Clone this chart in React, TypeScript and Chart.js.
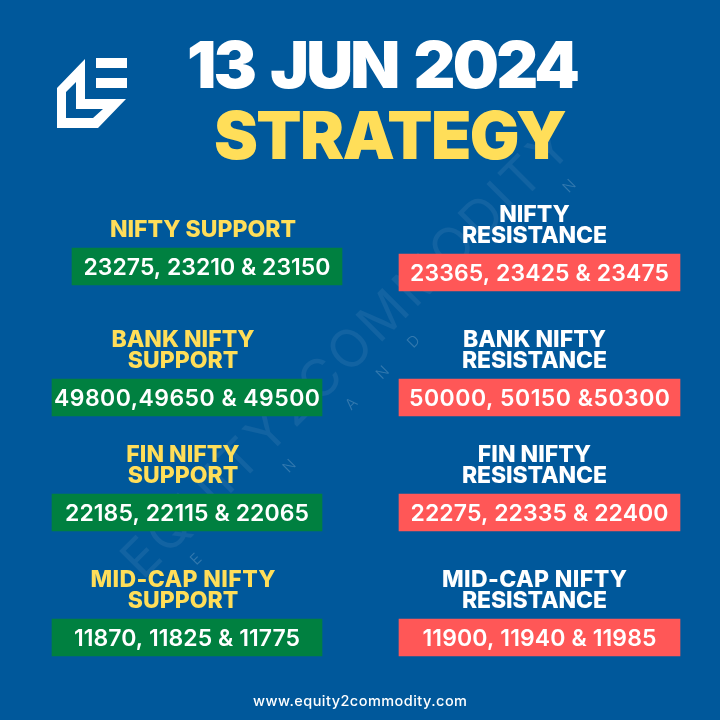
import React, { useEffect, useRef } from 'react';
import { Chart, registerables } from 'chart.js';

Chart.register(...registerables);

const dateTitle = '13 JUN 2024';
const strategyTitle = 'STRATEGY';
const website = 'www.equity2commodity.com';
const watermark = 'EQUITY2COMMODITY';
const watermarkSmall = ['E', '', '', 'N', '', 'A', 'N', 'D', '', '', '', '', 'N'];

const supportHeadings = [['NIFTY SUPPORT'], ['BANK NIFTY', 'SUPPORT'], ['FIN NIFTY', 'SUPPORT'], ['MID-CAP NIFTY', 'SUPPORT']];
const resistanceHeadings = [['NIFTY', 'RESISTANCE'], ['BANK NIFTY', 'RESISTANCE'], ['FIN NIFTY', 'RESISTANCE'], ['MID-CAP NIFTY', 'RESISTANCE']];

const supportLevels = ['23275, 23210 & 23150', '49800,49650 & 49500', '22185, 22115 & 22065', '11870, 11825 & 11775'];
const resistanceLevels = ['23365, 23425 & 23475', '50000, 50150 &50300', '22275, 22335 & 22400', '11900, 11940 & 11985'];

// plate extents on the 0-720 page scales
const supportSpans = [[72, 342], [52, 322], [52, 322], [52, 322]];
const resistanceSpans = [[399, 680], [399, 680], [399, 680], [399, 680]];
const supportRows = [266.5, 397.5, 512.5, 637.5];
const resistanceRows = [272.5, 397.5, 512.5, 637.5];

// widths the level text takes up inside its plate
const supportTextWidths = [247, 266, 244, 226];
const resistanceTextWidths = [259, 261, 258, 234];

const BLUE = '#00589b';
const GREEN = '#008040';
const RED = '#ff5757';
const YELLOW = '#ffde59';
const FONT = 'Inter, "Noto Sans", sans-serif';

// draws centred text, squeezing the letter spacing to hit a width when one is given
function drawText(ctx, text, x, y, font, color, width = 0, wordGap = 0) {
  ctx.font = font;
  ctx.fillStyle = color;
  ctx.letterSpacing = '0px';
  ctx.wordSpacing = `${wordGap}px`;
  ctx.textBaseline = 'alphabetic';
  ctx.textAlign = 'left';
  const natural = ctx.measureText(text).width;
  const target = width || natural;
  const spacing = width ? (width - natural) / (text.length - 1) : 0;
  ctx.letterSpacing = `${spacing}px`;
  ctx.fillText(text, x - target / 2, y);
  ctx.letterSpacing = '0px';
  ctx.wordSpacing = '0px';
}

const backgroundPlugin = {
  id: 'pageBackground',
  beforeDraw(chart) {
    const { ctx, width, height } = chart;
    ctx.save();
    ctx.fillStyle = BLUE;
    ctx.fillRect(0, 0, width, height);

    // faint watermark
    ctx.translate(345, 352);
    ctx.rotate(-Math.PI / 4);
    drawText(ctx, watermark, 0, 19, '400 52px Inter, sans-serif', 'rgba(255,255,255,0.07)', 610);
    watermarkSmall.forEach((letter, i) => {
      if (letter) drawText(ctx, letter, -252 + i * 44, 46, '300 15px Inter, sans-serif', 'rgba(255,255,255,0.2)');
    });
    ctx.restore();

    // logo
    ctx.save();
    ctx.fillStyle = '#ffffff';
    ctx.fillRect(96, 58, 31, 10);
    ctx.fillRect(96, 78, 31, 10);
    ctx.beginPath();
    ctx.moveTo(57, 88);
    ctx.lineTo(85, 59);
    ctx.lineTo(85, 99);
    ctx.lineTo(126, 99);
    ctx.lineTo(98, 128);
    ctx.lineTo(57, 128);
    ctx.closePath();
    ctx.moveTo(66, 92);
    ctx.lineTo(76, 82);
    ctx.lineTo(76, 109);
    ctx.lineTo(103, 109);
    ctx.lineTo(93, 118);
    ctx.lineTo(66, 118);
    ctx.closePath();
    ctx.fill('evenodd');
    ctx.restore();
  },
};

const textPlugin = {
  id: 'plateText',
  afterDatasetsDraw(chart) {
    const { ctx } = chart;
    ctx.save();
    drawText(ctx, dateTitle, 383.5, 88, `900 65px ${FONT}`, '#ffffff', 393, 6);
    drawText(ctx, strategyTitle, 390.5, 159, `900 66px ${FONT}`, YELLOW, 353);

    const headingFont = `800 23px ${FONT}`;
    const levelFont = `600 23px ${FONT}`;
    const columns = [
      { meta: chart.getDatasetMeta(0), levels: supportLevels, widths: supportTextWidths, headings: supportHeadings, color: YELLOW, shift: -4 },
      { meta: chart.getDatasetMeta(1), levels: resistanceLevels, widths: resistanceTextWidths, headings: resistanceHeadings, color: '#ffffff', shift: -5 },
    ];
    columns.forEach((col) => {
      col.meta.data.forEach((bar, i) => {
        const { x, y, base } = bar.getProps(['x', 'y', 'base'], true);
        const cx = (x + base) / 2;
        drawText(ctx, col.levels[i], cx, y + 8.5, levelFont, '#ffffff', col.widths[i]);
        const lines = col.headings[i];
        lines.forEach((line, j) => {
          const fromBottom = lines.length - 1 - j;
          const fit = line.startsWith('MID-CAP') ? 185 : line === 'RESISTANCE' ? 145 : 0;
          drawText(ctx, line, cx + col.shift, y - 29.5 - fromBottom * 21, headingFont, col.color, fit);
        });
      });
    });

    drawText(ctx, website, 360, 706, `500 14.5px ${FONT}`, '#ffffff', 214);
    ctx.restore();
  },
};

export default function App() {
  const chartRef = useRef(null);

  useEffect(() => {
    document.body.style.margin = '0';
    const chart = new Chart(chartRef.current.getContext('2d'), {
      type: 'bar',
      data: {
        datasets: [
          {
            label: 'Support',
            data: supportRows.map((y, i) => ({ x: supportSpans[i], y })),
            backgroundColor: GREEN,
            barThickness: 37,
          },
          {
            label: 'Resistance',
            data: resistanceRows.map((y, i) => ({ x: resistanceSpans[i], y })),
            backgroundColor: RED,
            barThickness: 37,
          },
        ],
      },
      options: {
        indexAxis: 'y',
        animation: false,
        responsive: false,
        layout: { padding: 0 },
        scales: {
          x: { type: 'linear', min: 0, max: 720, display: false },
          y: { type: 'linear', min: 0, max: 720, reverse: true, display: false, stacked: true, offset: false },
        },
        plugins: {
          legend: { display: false },
          tooltip: { enabled: false },
        },
      },
      plugins: [backgroundPlugin, textPlugin],
    });
    return () => chart.destroy();
  }, []);

  return <canvas ref={chartRef} width="720" height="720" style={{ display: 'block' }} />;
}
